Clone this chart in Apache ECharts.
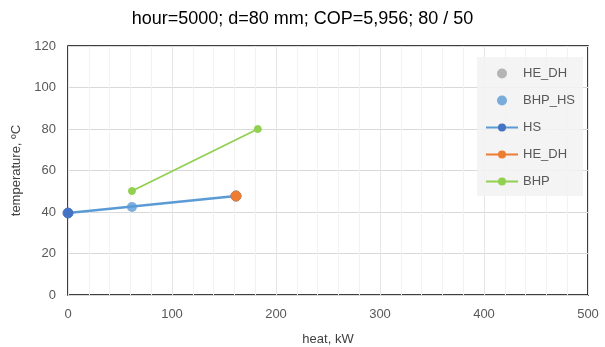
<!DOCTYPE html>
<html><head><meta charset="utf-8">
<script src="https://cdn.jsdelivr.net/npm/echarts@6/dist/echarts.min.js"></script>
<style>html,body{margin:0;padding:0;background:#fff}#c{width:605px;height:347px}</style>
</head><body><div id="c"></div>
<script>
const titleText = 'hour=5000; d=80 mm; COP=5,956; 80 / 50';
const xName = 'heat, kW';
const yName = 'temperature, ºC';
const heDhScatter = [[161.5, 47.7]];
const bhpHs = [[61.5, 42.4]];
const hs = [[0, 39.5], [161.5, 47.7]];
const heDhLine = [[161.5, 47.7]];
const bhp = [[61.5, 50.1], [182.5, 80]];

const font = 'Liberation Sans, Arial, sans-serif';
const chart = echarts.init(document.getElementById('c'), null, {renderer: 'canvas'});
chart.setOption({
  animation: false,
  title: {text: titleText, left: 'center', top: 5, textStyle: {fontFamily: font, fontSize: 18, fontWeight: 'normal', color: '#000'}},
  grid: {left: 68, right: 17, top: 46, bottom: 52, show: true, borderColor: '#000', borderWidth: 1.5, backgroundColor: 'transparent', outerBoundsMode: 'none', containLabel: false},
  legend: {
    orient: 'vertical', left: 477, top: 57,
    padding: [10, 8, 8, 8], itemGap: 14, itemWidth: 32, itemHeight: 10,
    backgroundColor: 'rgba(242,242,242,0.85)',
    textStyle: {fontFamily: font, fontSize: 13, color: '#595959'},
    data: [
      {name: 'HE_DH ', icon: 'circle'},
      {name: 'BHP_HS', icon: 'circle'},
      'HS', 'HE_DH', 'BHP'
    ]
  },
  xAxis: {
    type: 'value', min: 0, max: 500, interval: 100,
    name: xName, nameLocation: 'middle', nameGap: 38,
    nameTextStyle: {fontFamily: font, fontSize: 13, color: '#404040'},
    axisLine: {show: false}, axisTick: {show: false},
    axisLabel: {fontFamily: font, fontSize: 13, color: '#595959', margin: 13},
    splitLine: {show: true, lineStyle: {color: '#e6e6e6', width: 1}},
    minorTick: {show: false, splitNumber: 5},
    minorSplitLine: {show: true, lineStyle: {color: '#f2f2f2', width: 1}}
  },
  yAxis: {
    type: 'value', min: 0, max: 120, interval: 20,
    name: yName, nameLocation: 'middle', nameGap: 40, nameRotate: 90,
    nameTextStyle: {fontFamily: font, fontSize: 13, color: '#404040'},
    axisLine: {show: false}, axisTick: {show: false},
    axisLabel: {fontFamily: font, fontSize: 13, color: '#595959', margin: 12},
    splitLine: {show: true, lineStyle: {color: '#d9d9d9', width: 1.2}}
  },
  series: [
    {name: 'HE_DH ', type: 'scatter', data: heDhScatter, symbolSize: 9, itemStyle: {color: '#a5a5a5'}, z: 2},
    {name: 'BHP_HS', type: 'scatter', data: bhpHs, symbolSize: 10, itemStyle: {color: '#5b9bd5'}, z: 4},
    {name: 'HS', type: 'line', data: hs, symbol: 'circle', symbolSize: 10, showAllSymbol: true,
      lineStyle: {color: '#5b9bd5', width: 2.5}, itemStyle: {color: '#4472c4', borderColor: '#4472c4'}, z: 3},
    {name: 'HE_DH', type: 'line', data: heDhLine, symbol: 'circle', symbolSize: 10,
      lineStyle: {color: '#ed7d31', width: 2.5}, itemStyle: {color: '#ed7d31', borderColor: '#ed7d31'}, z: 5},
    {name: 'BHP', type: 'line', data: bhp, symbol: 'circle', symbolSize: 7,
      lineStyle: {color: '#92d050', width: 1.8}, itemStyle: {color: '#92d050', borderColor: '#92d050'}, z: 5}
  ]
});
</script></body></html>
